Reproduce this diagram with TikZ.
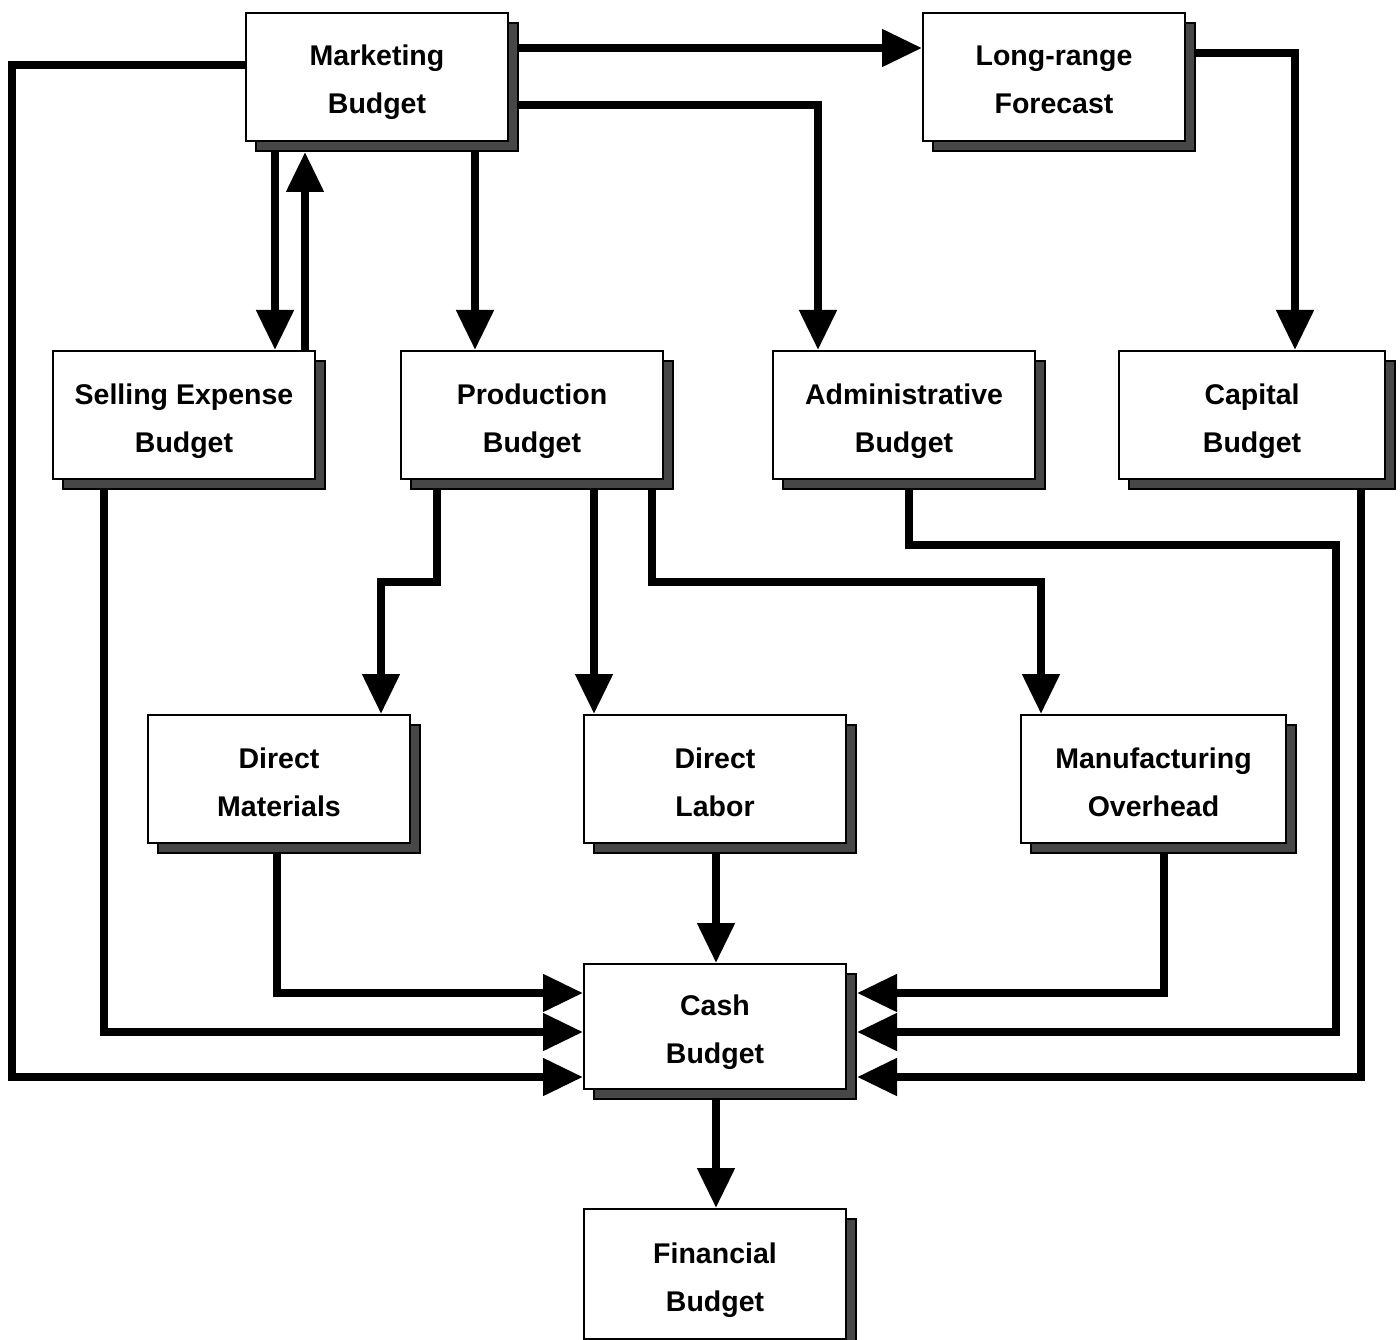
\documentclass[tikz,border=0pt]{standalone}
\usepackage{fontspec}
\setmainfont{Liberation Sans}
\usetikzlibrary{shapes,arrows.meta,shadows,calc}

\begin{document}
\begin{tikzpicture}[x=1pt,y=-1pt]
\tikzstyle{budget} = [draw=black,line width=2pt,fill=white,minimum width=262pt,minimum height=128pt,inner sep=0pt,anchor=north west,align=center,font=\bfseries\fontsize{28.5}{48}\selectfont,text height=80pt,text depth=6pt,drop shadow={shadow xshift=10pt,shadow yshift=-10pt,fill=black!72,draw=black,line width=2pt,opacity=1}]
\tikzstyle{flow} = [line width=8pt,-{Triangle[length=40pt,width=36pt]}]
\useasboundingbox (0,0) rectangle (1400,1340);
% boxes
\node[budget] (mkt) at (245,12) {Marketing\\Budget};
\node[budget] (lrf) at (922,12) {Long-range\\Forecast};
\node[budget] (sel) at (52,350) {Selling Expense\\Budget};
\node[budget] (prd) at (400,350) {Production\\Budget};
\node[budget] (adm) at (772,350) {Administrative\\Budget};
\node[budget,minimum width=266pt] (cap) at (1118,350) {Capital\\Budget};
\node[budget] (dm) at (147,714) {Direct\\Materials};
\node[budget] (dl) at (583,714) {Direct\\Labor};
\node[budget,minimum width=265pt] (mo) at (1020,714) {Manufacturing\\Overhead};
\node[budget,minimum height=125pt] (cash) at (583,963) {Cash\\Budget};
\node[budget,minimum height=130pt] (fin) at (583,1208) {Financial\\Budget};
% top row
\draw[flow] ($(mkt.north east)+(10,36)$) -- ($(lrf.north west)+(0,36)$);
\draw[flow] ($(mkt.north east)+(10,93)$) -| ($(adm.north west)+(46,0)$);
\draw[flow] ($(lrf.north east)+(10,41)$) -| ($(cap.north west)+(177,0)$);
\draw[flow] ($(mkt.south west)+(30,10)$) -- ($(sel.north west)+(223,0)$);
\draw[flow] ($(sel.north west)+(253,0)$) -- ($(mkt.south west)+(60,10)$);
\draw[flow] ($(mkt.south west)+(230,10)$) -- ($(prd.north west)+(75,0)$);
% production split
\draw[flow] ($(prd.south west)+(37,10)$) -- ++(0,92) -| ($(dm.north west)+(234,0)$);
\draw[flow] ($(prd.south west)+(194,10)$) -- ($(dl.north west)+(11,0)$);
\draw[flow] ($(prd.south west)+(252,10)$) -- ++(0,92) -| ($(mo.north west)+(21,0)$);
% into cash
\draw[flow] ($(mkt.north west)+(0,53)$) -- ++(-233,0) |- ($(cash.north west)+(0,114)$);
\draw[flow] ($(sel.south west)+(52,10)$) |- ($(cash.north west)+(0,69)$);
\draw[flow] ($(dm.south west)+(130,10)$) |- ($(cash.north west)+(0,30)$);
\draw[flow] ($(dl.south west)+(133,10)$) -- ($(cash.north west)+(133,0)$);
\draw[flow] ($(mo.south west)+(144,10)$) |- ($(cash.north east)+(10,30)$);
\draw[flow] ($(adm.south west)+(137,10)$) -- ++(0,55) -- ++(427,0) |- ($(cash.north east)+(10,69)$);
\draw[flow] ($(cap.south west)+(243,10)$) |- ($(cash.north east)+(10,114)$);
\draw[flow] ($(cash.south west)+(133,10)$) -- ($(fin.north west)+(133,0)$);
\end{tikzpicture}
\end{document}
